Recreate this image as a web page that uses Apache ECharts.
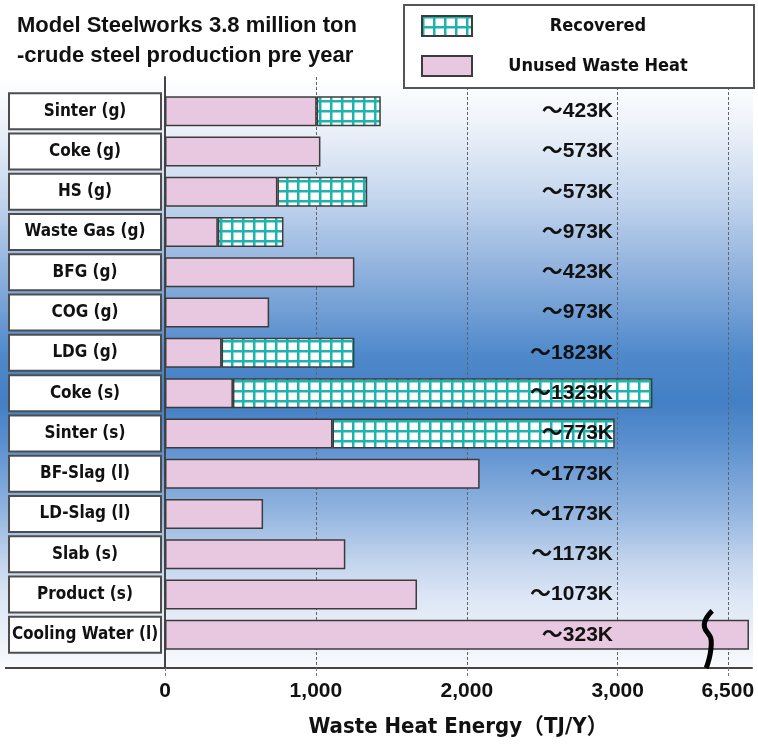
<!DOCTYPE html>
<html>
<head>
<meta charset="utf-8">
<script src="https://cdn.jsdelivr.net/npm/echarts@6.0.0/dist/echarts.min.js"></script>
<style>
  html, body { margin: 0; padding: 0; background: #ffffff; }
  #chart { width: 758px; height: 745px; }
</style>
</head>
<body>
<div id="chart"></div>
<script>
// Waste heat sources of a model steelworks (TJ per year)
const categories = [
  'Sinter (g)', 'Coke (g)', 'HS (g)', 'Waste Gas (g)', 'BFG (g)', 'COG (g)', 'LDG (g)',
  'Coke (s)', 'Sinter (s)', 'BF-Slag (l)', 'LD-Slag (l)', 'Slab (s)', 'Product (s)', 'Cooling Water (l)'
];
const unusedHeat    = [1005, 1030, 745, 350, 1255, 690, 375, 450, 1110, 2085, 650, 1195, 1670, 6640];
const recoveredHeat = [425, null, 595, 435, null, null, 880, 2780, 1870, null, null, null, null, null];
const tempLabels = [
  '～423K', '～573K', '～573K', '～973K', '～423K', '～973K', '～1823K',
  '～1323K', '～773K', '～1773K', '～1773K', '～1173K', '～1073K', '～323K'
];
const tickValues = [0, 1000, 2000, 3000, 6500];
const axisBreak = { start: 3600, end: 6370 };
const axisMax = 6660;

const COND = "'DejaVu Sans Condensed', 'Liberation Sans', 'Noto Sans CJK JP', sans-serif";
const SANS = "'Liberation Sans', 'Noto Sans CJK JP', sans-serif";

// Teal grid hatch used for the recovered portion
function gridHatch() {
  const c = document.createElement('canvas');
  c.width = 11; c.height = 10;
  const g = c.getContext('2d');
  g.fillStyle = '#ffffff';
  g.fillRect(0, 0, 11, 10);
  g.fillStyle = '#1fb3ad';
  g.fillRect(0, 0, 11, 2.5);
  g.fillRect(0, 0, 2.5, 10);
  return { image: c, repeat: 'repeat' };
}

const chart = echarts.init(document.getElementById('chart'), null, { renderer: 'canvas' });

const sharedX = {
  type: 'value',
  min: 0,
  max: axisMax,
  breaks: [{ start: axisBreak.start, end: axisBreak.end, gap: 0 }],
  breakArea: { show: false }
};

const option = {
  animation: false,
  backgroundColor: '#ffffff',
  title: {
    text: 'Model Steelworks 3.8 million ton\n-crude steel production pre year',
    left: 12,
    top: 6,
    textStyle: { fontFamily: SANS, fontSize: 22, fontWeight: 'bold', color: '#111', lineHeight: 30 }
  },
  legend: {
    orient: 'vertical',
    left: 404,
    top: 5,
    padding: [10, 35, 11, 17],
    itemWidth: 50,
    itemHeight: 20,
    itemGap: 18,
    icon: 'rect',
    backgroundColor: '#ffffff',
    borderColor: '#555',
    borderWidth: 2,
    selectedMode: false,
    data: ['Recovered', 'Unused Waste Heat'],
    formatter: name => '{t|' + name + '}',
    textStyle: {
      rich: {
        t: { width: 242, align: 'center', fontFamily: COND, fontSize: 18, fontWeight: 'bold', color: '#111', lineHeight: 20 }
      }
    }
  },
  grid: [
    { left: 165, right: 6, top: 77, bottom: 77, outerBoundsMode: 'none' },
    { left: 165, right: 6, top: 91, height: 564, outerBoundsMode: 'none' }
  ],
  xAxis: [
    Object.assign({}, sharedX, {
      gridIndex: 0,
      position: 'bottom',
      axisLine: { show: true, lineStyle: { color: '#444', width: 2 } },
      axisTick: {
        show: true, length: 10, inside: false, customValues: tickValues,
        lineStyle: { color: '#777', type: [3, 2], width: 1 }
      },
      axisLabel: {
        customValues: tickValues,
        formatter: v => Number(v).toLocaleString('en-US'),
        fontFamily: SANS, fontSize: 21, fontWeight: 'bold', color: '#111', margin: 13
      },
      splitLine: {
        show: true, showMinLine: false,
        lineStyle: { color: '#5f636c', type: [3, 2], width: 1 }
      },
      name: 'Waste Heat Energy（TJ/Y）',
      nameLocation: 'middle',
      nameGap: 48,
      nameTextStyle: { fontFamily: COND, fontSize: 22, fontWeight: 'bold', color: '#111' }
    }),
    Object.assign({}, sharedX, {
      gridIndex: 1,
      show: false,
      splitLine: { show: false }
    })
  ],
  yAxis: [
    {
      type: 'value', gridIndex: 0, min: 0, max: 1,
      axisLine: { show: true, lineStyle: { color: '#444', width: 2 } },
      axisTick: { show: false }, axisLabel: { show: false }, splitLine: { show: false }
    },
    {
      type: 'category', gridIndex: 1, inverse: true, data: categories,
      axisLine: { show: false }, axisTick: { show: false }, splitLine: { show: false },
      axisLabel: {
        margin: 5,
        formatter: v => '{b|' + v + '}',
        backgroundColor: '#ffffff',
        borderColor: '#4d4d4d',
        borderWidth: 2,
        padding: [1, 1],
        rich: {
          b: { width: 148, height: 32, lineHeight: 32, align: 'center', fontFamily: COND, fontSize: 17, fontWeight: 'bold', color: '#111' }
        }
      }
    },
    {
      type: 'category', gridIndex: 1, inverse: true, data: tempLabels,
      position: 'right', offset: -139, z: 10,
      axisLine: { show: false }, axisTick: { show: false }, splitLine: { show: false },
      axisLabel: { inside: true, margin: 0, fontFamily: SANS, fontSize: 21, fontWeight: 'bold', color: '#111' }
    }
  ],
  series: [
    {
      name: 'Unused Waste Heat',
      type: 'bar',
      stack: 'heat',
      xAxisIndex: 1,
      yAxisIndex: 1,
      barWidth: 30,
      itemStyle: { color: '#e8c8e0', borderColor: '#3c3c3c', borderWidth: 1.5 },
      data: unusedHeat
    },
    {
      name: 'Recovered',
      type: 'bar',
      stack: 'heat',
      xAxisIndex: 1,
      yAxisIndex: 1,
      barWidth: 30,
      itemStyle: { color: gridHatch(), borderColor: '#3c3c3c', borderWidth: 1.5 },
      data: recoveredHeat
    }
  ]
};

chart.setOption(option);

// Background band, left extension of the base line and the break mark on the longest bar
const plotTop = chart.convertToPixel({ yAxisIndex: 0 }, 1);
const baseY = chart.convertToPixel({ yAxisIndex: 0 }, 0);
const plotLeft = chart.convertToPixel({ xAxisIndex: 0 }, 0);
const plotRight = chart.convertToPixel({ xAxisIndex: 0 }, axisMax);
const breakX = chart.convertToPixel({ xAxisIndex: 0 }, axisBreak.start);
const lastRowY = chart.convertToPixel({ yAxisIndex: 1 }, categories[categories.length - 1]);

chart.setOption({
  graphic: [
    {
      type: 'rect', z: -100, silent: true,
      shape: { x: 0, y: plotTop, width: plotRight + 1, height: baseY - plotTop },
      style: {
        fill: new echarts.graphic.LinearGradient(0, 0, 0, 1, [
          { offset: 0, color: '#ffffff' },
          { offset: 0.08, color: '#eef3fa' },
          { offset: 0.2, color: '#c6d7ee' },
          { offset: 0.33, color: '#8fb1dd' },
          { offset: 0.47, color: '#4f89cb' },
          { offset: 0.55, color: '#437fc5' },
          { offset: 0.62, color: '#5b90cf' },
          { offset: 0.74, color: '#94b6e0' },
          { offset: 0.81, color: '#bed1ec' },
          { offset: 0.88, color: '#dce6f5' },
          { offset: 1, color: '#f8fafd' }
        ])
      }
    },
    {
      type: 'line', z: 5, silent: true,
      shape: { x1: 5, y1: baseY, x2: plotLeft, y2: baseY },
      style: { stroke: '#444', lineWidth: 2 }
    },
    {
      type: 'polyline', z: 50, silent: true,
      shape: {
        points: [
          [breakX + 4, lastRowY - 24],
          [breakX - 4, lastRowY - 10],
          [breakX + 3, lastRowY + 6],
          [breakX - 2, baseY]
        ],
        smooth: 0.5
      },
      style: { stroke: '#000', lineWidth: 5, fill: null }
    }
  ]
});
</script>
</body>
</html>
